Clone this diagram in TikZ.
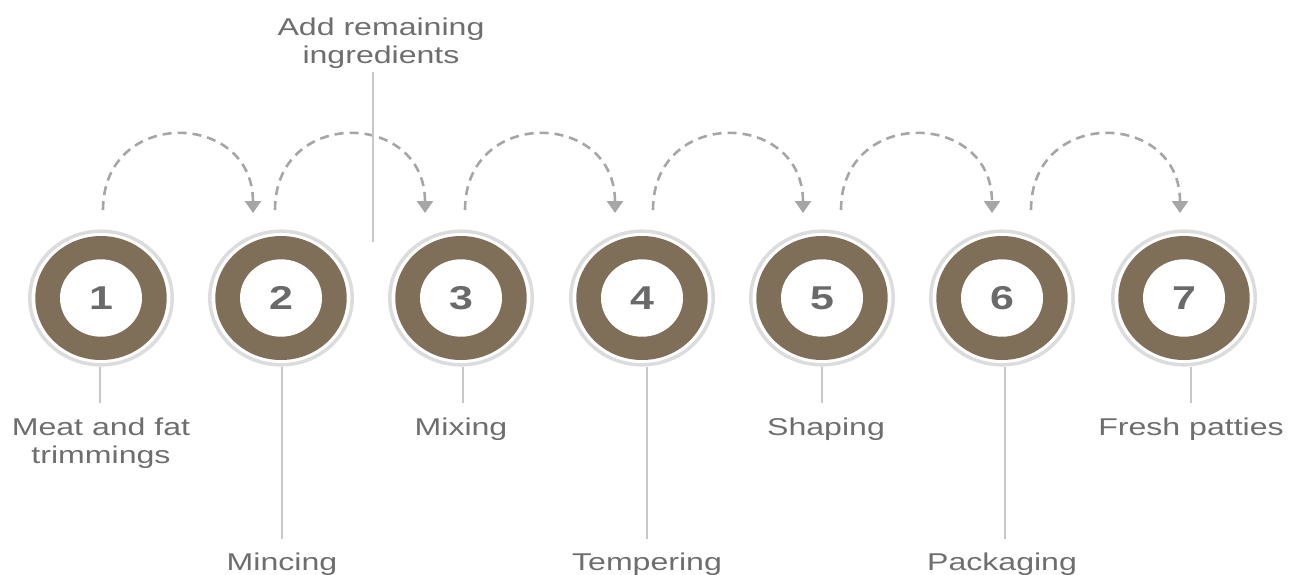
\documentclass[tikz,border=0pt]{standalone}
\usepackage{fontspec}
\setmainfont{Liberation Sans}[FakeStretch=1.32]
\newfontfamily\numfont{Liberation Sans}[FakeStretch=1.3]
\usetikzlibrary{arrows.meta,shapes.geometric,calc}
\definecolor{ringbrown}{HTML}{7F6F58}
\definecolor{halogray}{HTML}{DCDCDC}
\definecolor{hopgray}{HTML}{A6A6A6}
\definecolor{stemgray}{HTML}{C8C8C8}
\definecolor{labelgray}{HTML}{6E6E6E}
\definecolor{numgray}{HTML}{6A6A6A}
\begin{document}
\begin{tikzpicture}[x=1pt,y=-1pt,
  haloring/.style={draw=halogray,line width=3.5pt},
  donut/.style={fill=ringbrown},
  numdisc/.style={ellipse,fill=white,minimum width=82pt,minimum height=77.4pt,
    inner sep=0pt,text=numgray,font=\numfont\bfseries\fontsize{33}{33}\selectfont},
  hop/.style={draw=hopgray,line width=2.6pt,dash pattern=on 9pt off 6pt,
    -{Triangle[width=16pt,length=12pt]}},
  stem/.style={draw=stemgray,line width=2pt},
  steplabel/.style={text=labelgray,align=center,inner sep=0pt,anchor=base,
    font=\fontsize{24.3}{28}\selectfont}]
\useasboundingbox (0,0) rectangle (1299,574);

% process steps: halo, brown ring, numbered disc
\foreach \i/\x in {1/101,2/281,3/461,4/642,5/822,6/1002,7/1184}{
  \coordinate (c\i) at (\x,298);
  \draw[haloring] (c\i) ellipse [x radius=71.2pt, y radius=66.8pt];
  \fill[donut] (c\i) ellipse [x radius=65.7pt, y radius=62pt];
  \node[numdisc] (s\i) at (c\i) {\i};
}

% dashed hops between consecutive steps
\foreach \i/\xa/\xe in {1/103/253,2/275/425,3/465/615,4/653/803,5/841/992,6/1031/1180}{
  \coordinate (a\i) at (\xa,210);
  \coordinate (e\i) at (\xe,213);
  \draw[hop] (a\i) .. controls ($(a\i)+(0,-103)$) and ($(e\i)+(0,-103)$) .. (e\i);
}

% stems from each step down to its label
\foreach \i/\x/\yb in {1/100/403,2/282/539,3/463/403,4/647/539,5/822/403,6/1005/539,7/1191/403}{
  \coordinate (t\i) at (\x,367);
  \coordinate (b\i) at (\x,\yb);
  \draw[stem] (t\i) -- (b\i);
}

% step labels (multi-line labels sit on the baseline of their last line)
\node[steplabel] (l1) at (101,463) {Meat and fat\\trimmings};
\node[steplabel] (l2) at (282,570) {Mincing};
\node[steplabel] (l3) at (461,435) {Mixing};
\node[steplabel] (l4) at (647,570) {Tempering};
\node[steplabel] (l5) at (826,435) {Shaping};
\node[steplabel] (l6) at (1002,570) {Packaging};
\node[steplabel] (l7) at (1191,435) {Fresh patties};

% added ingredients between mincing and mixing
\node[steplabel] (add) at (381,63) {Add remaining\\ingredients};
\coordinate (addtop) at (373,72);
\coordinate (addbot) at (373,242);
\draw[stem] (addtop) -- (addbot);
\end{tikzpicture}
\end{document}
